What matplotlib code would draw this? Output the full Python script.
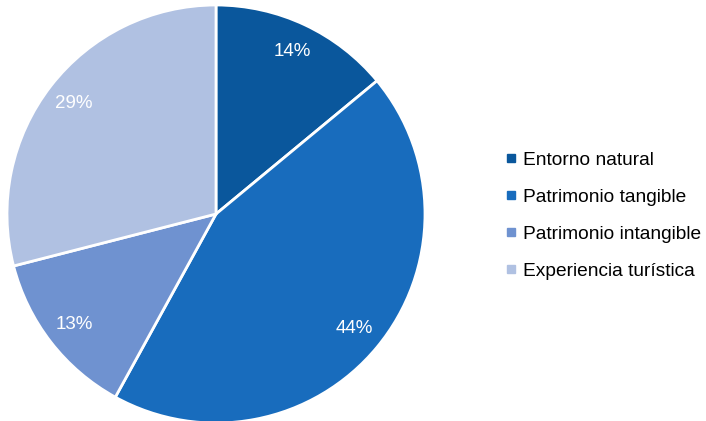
import matplotlib.pyplot as plt
from matplotlib.lines import Line2D

labels = ["Entorno natural", "Patrimonio tangible", "Patrimonio intangible", "Experiencia turística"]
values = [14, 44, 13, 29]
colors = ["#0A579C", "#186CBD", "#6F92D0", "#B0C1E2"]

plt.rcParams["font.family"] = ["Liberation Sans", "DejaVu Sans"]

my_dpi = 100
fig = plt.figure(figsize=(706 / my_dpi, 421 / my_dpi), dpi=my_dpi)

# pie centre ~ (216, 214) px, radius ~ 209 px
cx, cy, r = 216, 214, 209
ax = fig.add_axes([(cx - r) / 706, (421 - cy - r) / 421, 2 * r / 706, 2 * r / 421])

wedges, texts, autotexts = ax.pie(
    values, colors=colors, startangle=90, counterclock=False,
    autopct="%d%%", pctdistance=0.86,
    wedgeprops=dict(edgecolor="white", linewidth=2),
    textprops=dict(color="white", fontsize=13.5),
)
ax.set(xlim=(-1, 1), ylim=(-1, 1))
ax.set_aspect("equal")

handles = [Line2D([], [], marker="s", linestyle="", markersize=5.5, color=c) for c in colors]
fig.legend(handles, labels, loc="center left", bbox_to_anchor=(497 / 706, 0.488),
           frameon=False, fontsize=13.8, handlelength=0.5, handletextpad=0.35,
           labelspacing=1.02, borderpad=0)

fig.savefig("out.png", dpi=my_dpi)
